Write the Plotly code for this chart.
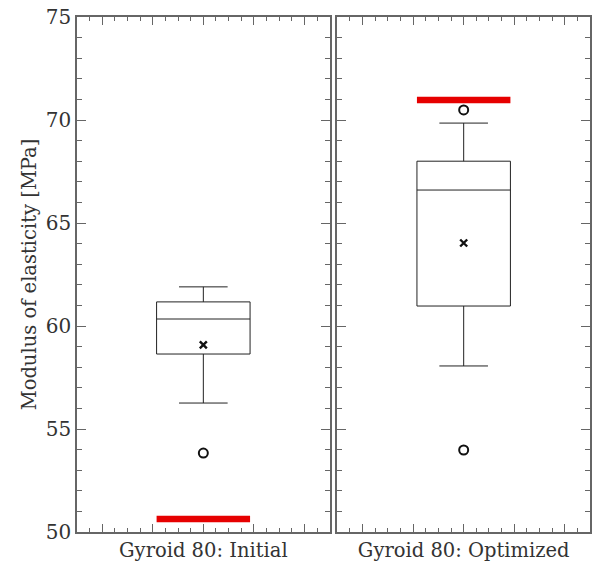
import plotly.graph_objects as go
from plotly.subplots import make_subplots

# ---- data ----
categories = ["Gyroid 80: Initial", "Gyroid 80: Optimized"]
q1 = [58.64, 60.97]
median = [60.34, 66.60]
q3 = [61.17, 68.00]
lower_whisker = [56.26, 58.06]
upper_whisker = [61.90, 69.85]
means = [59.08, 64.03]
outliers = [[53.83], [53.98, 70.49]]
reference_line = [50.63, 70.97]

box_width = 0.37
major_ticks = [-0.4, -0.2, 0.0, 0.2, 0.4]

fig = make_subplots(rows=1, cols=2, shared_yaxes=False, horizontal_spacing=0.015)

font_family = "DejaVu Serif"
for i, cat in enumerate(categories):
    col = i + 1
    fig.add_trace(go.Box(
        x=[0], q1=[q1[i]], median=[median[i]], q3=[q3[i]],
        lowerfence=[lower_whisker[i]], upperfence=[upper_whisker[i]],
        width=box_width, whiskerwidth=0.52,
        fillcolor="rgba(0,0,0,0)", line=dict(color="#222", width=1),
        boxpoints=False, showlegend=False, hoverinfo="skip"),
        row=1, col=col)
    fig.add_trace(go.Scatter(
        x=[0], y=[means[i]], mode="markers",
        marker=dict(symbol="x-thin", size=7, line=dict(color="#111", width=2.4)),
        showlegend=False), row=1, col=col)
    fig.add_trace(go.Scatter(
        x=[0] * len(outliers[i]), y=outliers[i], mode="markers",
        marker=dict(symbol="circle-open", size=9, color="#111", line=dict(width=2)),
        showlegend=False), row=1, col=col)
    fig.add_trace(go.Scatter(
        x=[-box_width / 2, box_width / 2], y=[reference_line[i]] * 2, mode="lines",
        line=dict(color="#e60000", width=6.5), showlegend=False), row=1, col=col)

    ticktext = ["" if v != 0 else cat for v in major_ticks]
    fig.update_xaxes(
        range=[-0.5, 0.5], tickmode="array", tickvals=major_ticks, ticktext=ticktext,
        ticks="inside", ticklen=8, tickcolor="#666", tickwidth=1,
        minor=dict(dtick=0.05, ticks="inside", ticklen=4, tickcolor="#666", tickwidth=1),
        showline=True, linecolor="#666", linewidth=1.5, mirror="ticks",
        showgrid=False, zeroline=False, automargin=False,
        tickfont=dict(family=font_family, size=19.5, color="#333"),
        row=1, col=col)
    fig.update_yaxes(
        range=[50, 75], dtick=5, tick0=50,
        ticks="inside", ticklen=9, tickcolor="#666", tickwidth=1,
        minor=dict(dtick=1, ticks="inside", ticklen=5, tickcolor="#666", tickwidth=1),
        showline=True, linecolor="#666", linewidth=1.5, mirror="ticks",
        showgrid=False, zeroline=False, automargin=False,
        showticklabels=(col == 1),
        tickfont=dict(family=font_family, size=20, color="#333"),
        row=1, col=col)

fig.update_yaxes(title=dict(text="Modulus of elasticity [MPa]",
                            font=dict(family=font_family, size=19.5, color="#333"),
                            standoff=4),
                 ticklabelstandoff=0, row=1, col=1)

fig.update_layout(
    width=593, height=562,
    margin=dict(l=77, r=3, t=17, b=30),
    plot_bgcolor="white", paper_bgcolor="white",
    font=dict(family=font_family, color="#333"),
)

fig.write_html("out.html")
